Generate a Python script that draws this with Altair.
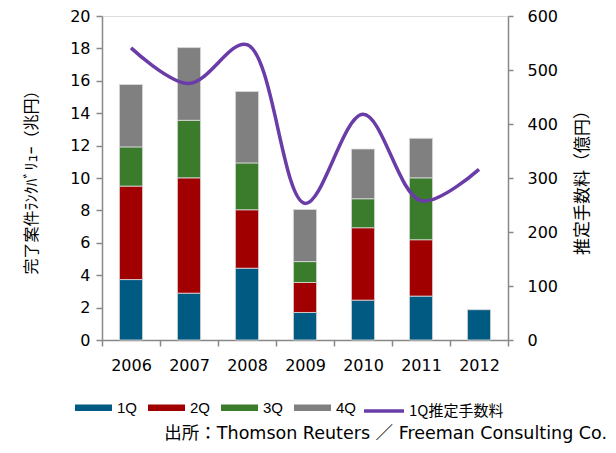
import altair as alt
import pandas as pd

years = ["2006", "2007", "2008", "2009", "2010", "2011", "2012"]
q1 = [3.73, 2.89, 4.43, 1.70, 2.46, 2.71, 1.87]
q2 = [5.77, 7.12, 3.61, 1.85, 4.47, 3.48, None]
q3 = [2.42, 3.55, 2.89, 1.29, 1.79, 3.82, None]
q4 = [3.85, 4.49, 4.41, 3.22, 3.07, 2.44, None]
fee = [541, 475, 547, 253, 418, 258, 316]
quarters = ["1Q", "2Q", "3Q", "4Q"]
bar_colors = ["#005A82", "#A00000", "#3A7B2C", "#808080"]
line_name = "1Q推定手数料"
line_color = "#6A3CA8"

rows = []
for qi, (q, vals) in enumerate(zip(quarters, [q1, q2, q3, q4])):
    for y, v in zip(years, vals):
        if v is not None:
            rows.append({"year": y, "quarter": q, "value": v, "ord": qi})
bars_df = pd.DataFrame(rows)
line_df = pd.DataFrame({"year": years, "fee": fee, "series": [line_name] * len(years)})

NUMFONT = "'DejaVu Sans', sans-serif"
FONT = "'Liberation Sans', Arial, 'Noto Sans CJK JP', sans-serif"
JFONT = "'Noto Sans CJK JP', sans-serif"
SRCFONT = "'DejaVu Sans', 'Noto Sans CJK JP', sans-serif"

x_enc = alt.X("year:N", sort=years,
              scale=alt.Scale(paddingInner=0, paddingOuter=0),
              axis=alt.Axis(title=None, labelAngle=0, tickBand="extent",
                            tickSize=6, labelPadding=11, labelFontSize=16,
                            labelFont=NUMFONT, labelColor="black",
                            domainColor="#888888", tickColor="#888888",
                            domainWidth=1.5, tickWidth=1.5))

bars = alt.Chart(bars_df).mark_bar(
    width=alt.RelativeBandSize(0.4), stroke="#dddddd", strokeWidth=0.8
).encode(
    x=x_enc,
    y=alt.Y("value:Q", stack="zero",
            scale=alt.Scale(domain=[0, 20]),
            axis=alt.Axis(title="完了案件ﾗﾝｸﾊﾞﾘｭｰ（兆円）", values=list(range(0, 21, 2)),
                          titleFont=JFONT, titleFontSize=16, titleFontWeight="normal",
                          titleColor="black", titlePadding=30,
                          labelFont=NUMFONT, labelFontSize=16, labelColor="black",
                          tickSize=6, labelPadding=6,
                          domainColor="#888888", tickColor="#888888",
                          domainWidth=1.5, tickWidth=1.5, grid=False)),
    color=alt.Color("quarter:N", sort=quarters,
                    scale=alt.Scale(domain=quarters, range=bar_colors),
                    legend=alt.Legend(title=None, orient="none", direction="horizontal",
                                      legendX=-27, legendY=373,
                                      symbolType="M-1,-0.18L1,-0.18L1,0.18L-1,0.18Z",
                                      symbolSize=1369, symbolStrokeWidth=0,
                                      labelFont=FONT, labelFontSize=15, labelColor="black",
                                      labelOffset=5, columnPadding=10, padding=0)),
    order=alt.Order("ord:Q", sort="ascending"),
)

line = alt.Chart(line_df).mark_line(
    interpolate="catmull-rom", strokeWidth=3.5
).encode(
    x=alt.X("year:N", sort=years),
    y=alt.Y("fee:Q", scale=alt.Scale(domain=[0, 600]),
            axis=alt.Axis(title="推定手数料（億円）", orient="right", values=list(range(0, 601, 100)),
                          titleAngle=270,
                          titleFont=JFONT, titleFontSize=17, titleFontWeight="normal",
                          titleColor="black", titlePadding=34,
                          labelFont=NUMFONT, labelFontSize=16, labelColor="black",
                          tickSize=5, labelPadding=14,
                          domainColor="#888888", tickColor="#888888",
                          domainWidth=1.5, tickWidth=1.5, grid=False)),
    stroke=alt.Stroke("series:N", scale=alt.Scale(domain=[line_name], range=[line_color]),
                      legend=alt.Legend(title=None, orient="none", direction="horizontal",
                                        legendX=260, legendY=373,
                                        symbolType="stroke", symbolSize=1600,
                                        symbolStrokeWidth=3.5,
                                        labelFont=JFONT, labelFontSize=15, labelColor="black",
                                        labelOffset=3, padding=0)),
)

chart = alt.layer(bars, line).resolve_scale(y="independent", color="independent").properties(
    width=406, height=324,
    autosize=alt.AutoSizeParams(type="none"),
    padding={"left": 94, "top": 8, "right": 100, "bottom": 105},
    title=alt.TitleParams(text="出所：Thomson Reuters ／ Freeman Consulting Co.",
                          orient="bottom", anchor="end", frame="group", font=SRCFONT,
                          fontSize=17.5, fontWeight="normal", color="black",
                          offset=6, dx=99),
).configure_view(stroke=None).configure(background="white")

chart.save("out.html", embed_options={"renderer": "svg", "actions": False})
